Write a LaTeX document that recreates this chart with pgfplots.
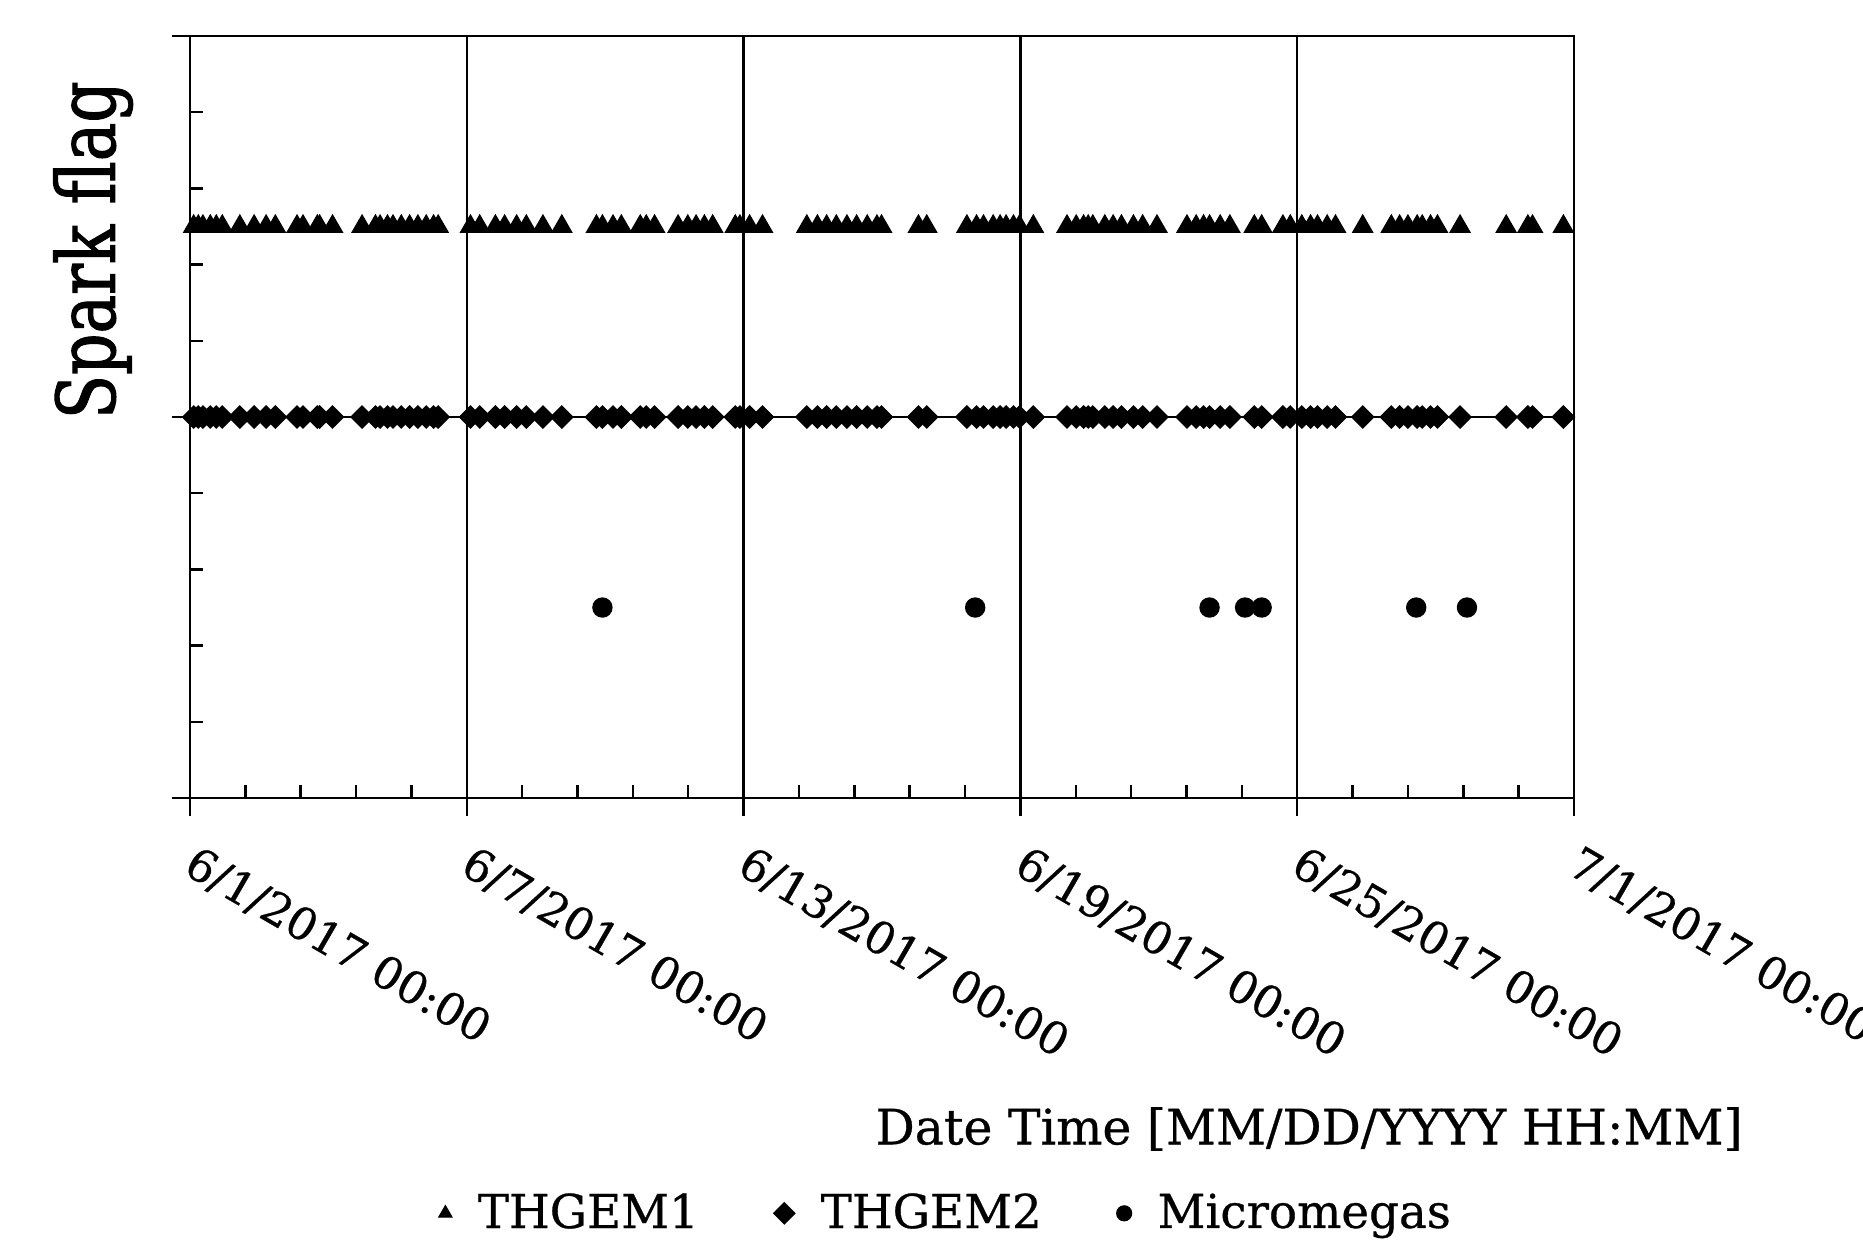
\documentclass[border=0pt]{standalone}
\usepackage{pgfplots}
\usepackage{pgfplotstable}
\pgfplotsset{compat=1.18}
\usepackage{fontspec}
\setmainfont{DejaVu Serif}[FakeBold=0.6]
\newfontfamily\condfont{DejaVu Serif}[FakeStretch=0.8, FakeBold=1.4]

% days since 6/1/2017 00:00
\pgfplotstableread{
t thgem1 thgem2
0.08 0.5 0
0.18 0.5 0
0.28 0.5 0
0.44 0.5 0
0.57 0.5 0
0.70 0.5 0
1.08 0.5 0
1.39 0.5 0
1.65 0.5 0
1.85 0.5 0
2.32 0.5 0
2.45 0.5 0
2.76 0.5 0
2.81 0.5 0
3.09 0.5 0
3.73 0.5 0
4.02 0.5 0
4.12 0.5 0
4.28 0.5 0
4.40 0.5 0
4.58 0.5 0
4.76 0.5 0
4.94 0.5 0
5.12 0.5 0
5.28 0.5 0
5.38 0.5 0
6.08 0.5 0
6.28 0.5 0
6.62 0.5 0
6.82 0.5 0
7.08 0.5 0
7.29 0.5 0
7.65 0.5 0
8.06 0.5 0
8.81 0.5 0
8.94 0.5 0
9.17 0.5 0
9.35 0.5 0
9.76 0.5 0
9.89 0.5 0
10.07 0.5 0
10.58 0.5 0
10.79 0.5 0
10.97 0.5 0
11.15 0.5 0
11.33 0.5 0
11.82 0.5 0
11.92 0.5 0
12.13 0.5 0
12.41 0.5 0
13.37 0.5 0
13.60 0.5 0
13.80 0.5 0
14.01 0.5 0
14.24 0.5 0
14.45 0.5 0
14.68 0.5 0
14.89 0.5 0
14.99 0.5 0
15.79 0.5 0
15.97 0.5 0
16.84 0.5 0
17.05 0.5 0
17.20 0.5 0
17.41 0.5 0
17.56 0.5 0
17.69 0.5 0
17.85 0.5 0
17.98 0.5 0
18.28 0.5 0
19.01 0.5 0
19.21 0.5 0
19.37 0.5 0
19.47 0.5 0
19.57 0.5 0
19.83 0.5 0
20.01 0.5 0
20.19 0.5 0
20.45 0.5 0
20.65 0.5 0
20.96 0.5 0
21.61 0.5 0
21.81 0.5 0
21.97 0.5 0
22.10 0.5 0
22.33 0.5 0
22.54 0.5 0
23.07 0.5 0
23.23 0.5 0
23.69 0.5 0
23.85 0.5 0
24.10 0.5 0
24.29 0.5 0
24.44 0.5 0
24.65 0.5 0
24.83 0.5 0
25.42 0.5 0
26.04 0.5 0
26.22 0.5 0
26.40 0.5 0
26.60 0.5 0
26.71 0.5 0
26.89 0.5 0
27.04 0.5 0
27.53 0.5 0
28.53 0.5 0
29.00 0.5 0
29.10 0.5 0
29.77 0.5 0
}\sparks

\pgfplotstableread{
t mm
8.94 -0.5
17.02 -0.5
22.10 -0.5
22.87 -0.5
23.23 -0.5
26.58 -0.5
27.68 -0.5
}\micro

\begin{document}
\begin{tikzpicture}
\begin{axis}[
  scale only axis,
  width=138.4mm, height=76.2mm,
  xmin=0, xmax=30, ymin=-1, ymax=1,
  clip=false,
  axis line style={black, line width=0.7pt},
  every tick/.style={black, line width=0.7pt},
  xtick pos=bottom, ytick pos=left,
  tick align=inside,
  major tick length=1.3mm,
  xtick={0,1.2,2.4,3.6,4.8,6,7.2,8.4,9.6,10.8,12,13.2,14.4,15.6,16.8,18,19.2,20.4,21.6,22.8,24,25.2,26.4,27.6,28.8,30},
  ytick={-1,-0.8,-0.6,-0.4,-0.2,0,0.2,0.4,0.6,0.8,1},
  xticklabels={}, yticklabels={},
  extra x ticks={0,6,12,18,24,30},
  extra x tick labels={6/1/2017 00:00,6/7/2017 00:00,6/13/2017 00:00,6/19/2017 00:00,6/25/2017 00:00,7/1/2017 00:00},
  extra y ticks={-1,0,1},
  extra y tick labels={},
  extra tick style={tick align=outside, major tick length=1.8mm, grid=major},
  major grid style={black, line width=0.7pt},
  xticklabel style={xshift=0.4mm, yshift=-1.1mm, rotate=-30, anchor=north west,
    font=\fontsize{12.7}{15}\selectfont},
  xlabel={Date Time [MM/DD/YYYY HH:MM]},
  xlabel style={at={(axis description cs:1,0)}, anchor=east, xshift=18.1mm, yshift=-33.1mm,
    font=\fontsize{13.9}{16}\selectfont},
  ylabel={Spark flag},
  ylabel style={at={(axis description cs:-0.070,0.719)}, anchor=center,
    font=\condfont\fontsize{23}{27}\selectfont},
  legend columns=3,
  legend style={draw=none, fill=none, at={(axis description cs:0.548,-0.545)}, anchor=center,
    font=\fontsize{13.3}{16}\selectfont,
    /tikz/every even column/.append style={column sep=6.8mm},
    /tikz/every odd column/.append style={column sep=1.9mm}},
  legend image post style={mark size=2.1pt},
]
\addplot[only marks, mark=triangle*, mark size=3.2pt, black] table[x=t, y=thgem1] {\sparks};
\addlegendentry{THGEM1}
\addplot[only marks, mark=square*, mark options={rotate=45}, mark size=2.2pt, black] table[x=t, y=thgem2] {\sparks};
\addlegendentry{THGEM2}
\addplot[only marks, mark=*, mark size=2.7pt, black] table[x=t, y=mm] {\micro};
\addlegendentry{Micromegas}
\end{axis}
\pgfresetboundingbox
\path[use as bounding box] (-19mm,-44.5mm) rectangle (167.3mm,79.8mm);
\end{tikzpicture}
\end{document}
